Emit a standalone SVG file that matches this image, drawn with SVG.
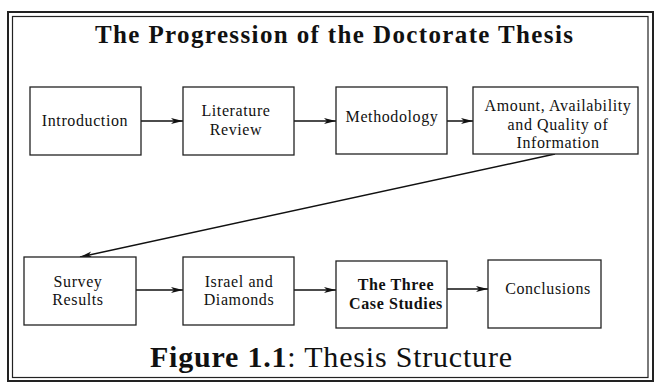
<svg xmlns="http://www.w3.org/2000/svg" width="655" height="383" viewBox="0 0 655 383">
<defs>
<marker id="ah" viewBox="0 0 12 8" refX="12" refY="4" markerWidth="12" markerHeight="8" markerUnits="userSpaceOnUse" orient="auto">
<path d="M0,1 L12,4 L0,7 L3,4 Z" fill="#111"/>
</marker>
</defs>
<style>
.box{fill:#fff;stroke:#222;stroke-width:1.3}
.lbl{font-family:"Liberation Serif","Times New Roman",serif;font-size:16px;fill:#111;text-anchor:middle;letter-spacing:0.6px}
.b{font-weight:bold}
.con{stroke:#111;stroke-width:1.5;fill:none;marker-end:url(#ah)}
</style>
<rect x="0" y="0" width="655" height="383" fill="#fff"/>
<rect x="8" y="12" width="645" height="369" fill="none" stroke="#222" stroke-width="2"/>
<rect x="12.5" y="16.5" width="635.5" height="361" fill="none" stroke="#222" stroke-width="1.2"/>
<text x="334" y="43" font-family="Liberation Serif,'Times New Roman',serif" font-weight="bold" font-size="25" text-anchor="middle" fill="#111" textLength="478" lengthAdjust="spacing">The Progression of the Doctorate Thesis</text>
<g id="connectors">
<line class="con" x1="141" y1="121" x2="183" y2="121"/>
<line class="con" x1="294" y1="121" x2="336" y2="121"/>
<line class="con" x1="447" y1="121" x2="473" y2="121"/>
<line class="con" x1="555" y1="154" x2="80" y2="257"/>
<line class="con" x1="136" y1="290" x2="183" y2="290"/>
<line class="con" x1="294" y1="290" x2="336" y2="290"/>
<line class="con" x1="447" y1="289" x2="488" y2="289"/>
</g>
<g id="introduction"><rect class="box" x="30" y="87" width="111" height="68"/><text class="lbl" x="85" y="126">Introduction</text></g>
<g id="literature"><rect class="box" x="183" y="87" width="111" height="68"/><text class="lbl" x="236" y="116">Literature</text><text class="lbl" x="236" y="135">Review</text></g>
<g id="methodology"><rect class="box" x="336" y="87" width="111" height="67"/><text class="lbl" x="392" y="122">Methodology</text></g>
<g id="amount"><rect class="box" x="473" y="87" width="165" height="67"/><text class="lbl" x="558" y="111">Amount, Availability</text><text class="lbl" x="558" y="129.5">and Quality of</text><text class="lbl" x="558" y="148">Information</text></g>
<g id="survey"><rect class="box" x="24" y="257" width="112" height="68"/><text class="lbl" x="78" y="287">Survey</text><text class="lbl" x="78" y="305">Results</text></g>
<g id="israel"><rect class="box" x="183" y="257" width="111" height="68"/><text class="lbl" x="239" y="287">Israel and</text><text class="lbl" x="239" y="305">Diamonds</text></g>
<g id="cases"><rect class="box" x="336" y="261" width="111" height="67"/><text class="lbl b" x="396" y="290">The Three</text><text class="lbl b" x="396" y="309">Case Studies</text></g>
<g id="conclusions"><rect class="box" x="488" y="260" width="113" height="68"/><text class="lbl" x="548" y="294">Conclusions</text></g>
<text x="150" y="367" font-family="Liberation Serif,'Times New Roman',serif" font-size="30" fill="#111" textLength="362" lengthAdjust="spacing"><tspan font-weight="bold">Figure 1.1</tspan>: Thesis Structure</text>
</svg>
